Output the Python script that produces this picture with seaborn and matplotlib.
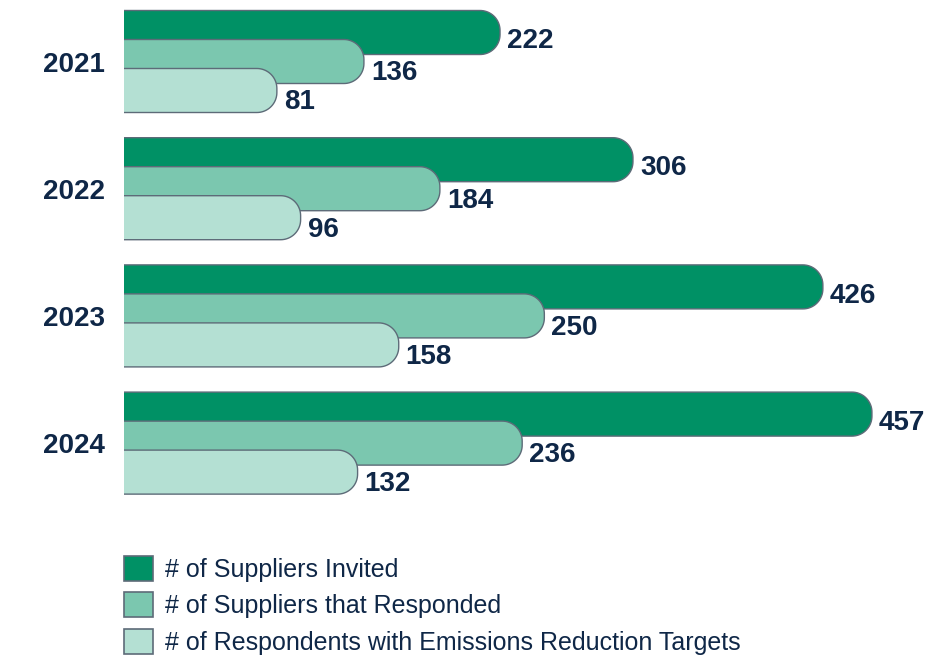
import numpy as np
import pandas as pd
import matplotlib
matplotlib.use("Agg")
import matplotlib.pyplot as plt
from matplotlib.patches import Polygon, Patch
import seaborn as sns

years = ["2021", "2022", "2023", "2024"]
series = ["# of Suppliers Invited",
          "# of Suppliers that Responded",
          "# of Respondents with Emissions Reduction Targets"]
invited = [222, 306, 426, 457]
responded = [136, 184, 250, 236]
with_targets = [81, 96, 158, 132]

colors = ["#009165", "#7bc7af", "#b4e0d3"]
edge = "#5d6b78"
navy = "#0f2747"

df = pd.DataFrame({
    "year": years * 3,
    "series": [series[0]] * 4 + [series[1]] * 4 + [series[2]] * 4,
    "value": invited + responded + with_targets,
})

sns.set_style("white")
plt.rcParams["font.family"] = ["Liberation Sans", "DejaVu Sans"]

W, H = 951, 659
fig = plt.figure(figsize=(W / 100, H / 100), dpi=100)
ax_top, ax_bot = 0, 520
ax = fig.add_axes([124 / W, 1 - ax_bot / H, (940 - 124) / W, (ax_bot - ax_top) / H])

sns.barplot(data=df, y="year", x="value", hue="series", orient="h",
            palette=colors, width=0.684, ax=ax, legend=False)

xmin, xmax = -15.6, 500
ax.set_xlim(xmin, xmax)
ax.set_ylim(3.6045, -0.4835)

# swap the flat bars for ones with a rounded right end
bar_h = 0.346
px_x = (940 - 124) / (xmax - xmin)
px_y = (ax_bot - ax_top) / (3.6045 + 0.4835)
rx = 20 / px_x
ry = 20 / px_y
t1 = np.linspace(np.pi / 2, 0, 20)
t2 = np.linspace(0, -np.pi / 2, 20)
for hi, cont in enumerate(ax.containers):
    for bar in list(cont):
        val = bar.get_width()
        yc = bar.get_y() + bar.get_height() / 2
        bar.set_visible(False)
        start = xmin - 20
        top, bot = yc - bar_h / 2, yc + bar_h / 2
        cx = val - rx
        pts = [(start, top)]
        pts += [(cx + rx * np.cos(t), top + ry - ry * np.sin(t)) for t in t1]
        pts += [(cx + rx * np.cos(t), bot - ry - ry * np.sin(t)) for t in t2]
        pts += [(start, bot)]
        p = Polygon(pts, closed=True, facecolor=colors[hi], edgecolor=edge,
                    linewidth=1.0, zorder=2 + hi)
        ax.add_patch(p)
        dy = -6.3 if hi == 0 else -8.5
        ax.annotate(f"{int(val)}", (val, yc), xytext=(5, dy),
                    textcoords="offset points", ha="left", va="center",
                    fontsize=20, fontweight="bold", color=navy,
                    zorder=10)

ax.set_xlabel("")
ax.set_ylabel("")
ax.set_xticks([])
ax.tick_params(axis="y", length=0, pad=14)
for t in ax.get_yticklabels():
    t.set_fontsize(20)
    t.set_fontweight("bold")
    t.set_color(navy)
sns.despine(ax=ax, left=True, bottom=True)

handles = [Patch(facecolor=c, edgecolor=edge, linewidth=1.2) for c in colors]
fig.legend(handles, series, loc="upper left",
           bbox_to_anchor=(124 / W, 1 - 556 / H), frameon=False,
           fontsize=18, handlelength=1.16, handleheight=1.16,
           handletextpad=0.48, labelspacing=0.42, borderpad=0,
           borderaxespad=0, labelcolor=navy)

fig.savefig("out.png", dpi=100)
